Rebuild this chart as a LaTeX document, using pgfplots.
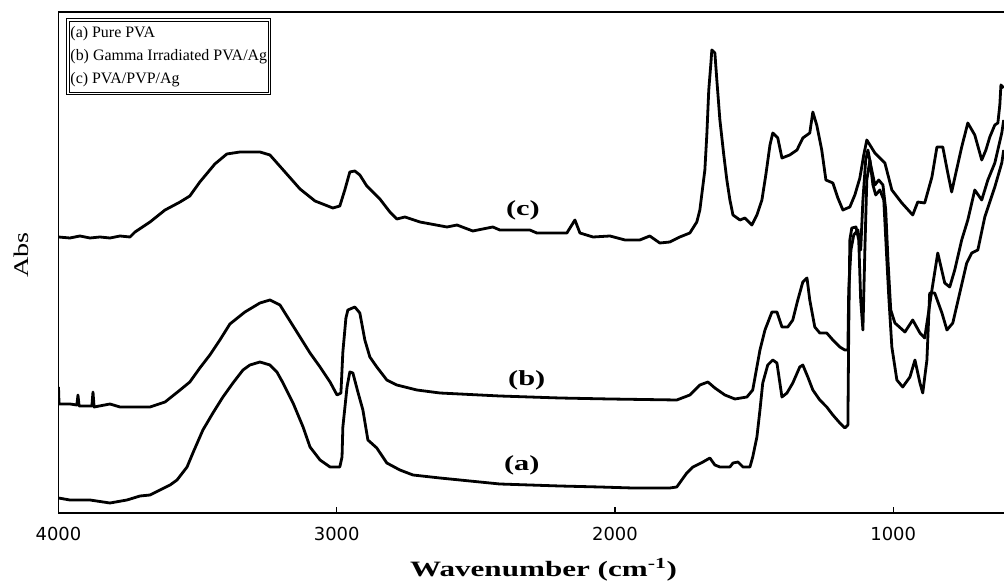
\documentclass[border=0pt]{standalone}
\usepackage{pgfplots}
\pgfplotsset{compat=1.18}
\usepackage{fontspec}
\setmainfont{Liberation Serif}
\newfontfamily\stretchserif[FakeStretch=1.35]{Liberation Serif}
\newfontfamily\widerserif[FakeStretch=1.42]{Liberation Serif}
\newfontfamily\ticksans{DejaVu Sans}

\pgfplotstableread{
wn h
4000 15
3959 13
3887 13
3815 10
3754 13
3707 17
3671 18
3635 23
3599 28
3574 33
3538 46
3517 60
3481 83
3445 100
3409 116
3373 130
3337 143
3312 148
3276 151
3240 148
3215 141
3193 130
3157 110
3121 86
3096 66
3060 53
3024 46
2989 46
2981 56
2978 86
2963 126
2953 141
2942 140
2924 121
2906 103
2888 73
2856 65
2820 50
2773 43
2726 38
2629 35
2414 29
2198 27
2054 26
1936 25
1803 25
1778 26
1742 40
1720 46
1684 51
1659 55
1641 48
1623 46
1587 46
1576 50
1558 51
1540 46
1515 46
1505 56
1490 76
1479 103
1469 130
1451 148
1433 153
1418 150
1400 116
1382 120
1361 130
1336 146
1325 148
1307 136
1289 123
1264 113
1239 106
1217 98
1192 90
1174 85
1163 88
1160 183
1156 273
1149 285
1134 286
1124 273
1117 213
1109 183
1102 263
1095 333
1084 353
1073 328
1063 318
1048 323
1034 313
1023 253
1016 216
1005 166
987 133
966 126
940 136
922 153
904 130
894 120
879 153
869 220
851 220
825 200
807 183
786 190
761 220
736 250
718 260
696 263
671 296
635 326
610 350
603 363
}\curveA

\pgfplotstableread{
wn h
4000 126
3998 109
3959 109
3934 108
3930 118
3926 107
3880 107
3876 121
3872 106
3815 109
3779 106
3671 106
3617 111
3563 123
3528 131
3492 145
3456 158
3420 173
3384 189
3330 201
3276 210
3240 213
3204 208
3168 192
3132 176
3096 160
3060 146
3024 131
2999 118
2985 120
2978 161
2967 195
2960 203
2935 206
2917 200
2899 173
2881 156
2856 146
2820 133
2784 128
2712 123
2629 120
2414 117
2198 115
2018 114
1778 113
1731 118
1695 128
1666 131
1641 125
1605 118
1569 114
1526 116
1505 123
1479 163
1461 183
1436 201
1418 201
1400 186
1379 186
1361 193
1343 213
1325 231
1310 235
1300 213
1282 186
1264 180
1239 180
1217 173
1192 166
1174 163
1163 163
1160 223
1152 263
1142 278
1127 283
1117 263
1109 313
1099 353
1091 363
1081 348
1066 328
1052 333
1037 328
1027 303
1019 253
1009 203
994 190
958 181
930 193
904 180
887 175
861 223
840 260
815 230
797 226
779 243
754 273
732 293
707 323
682 313
660 333
635 350
610 380
603 393
}\curveB

\pgfplotstableread{
wn h
4000 276
3959 275
3923 277
3887 275
3851 276
3815 275
3779 277
3743 276
3725 281
3671 291
3617 303
3563 311
3528 317
3492 331
3438 349
3395 359
3348 361
3276 361
3240 358
3186 341
3132 324
3078 312
3014 305
2989 307
2971 323
2953 341
2935 342
2917 338
2892 327
2845 314
2809 301
2784 294
2755 296
2701 291
2604 286
2568 288
2511 282
2439 286
2414 283
2306 283
2281 280
2173 280
2144 293
2126 280
2079 276
2018 277
1964 273
1911 273
1875 277
1839 270
1803 271
1767 276
1731 280
1706 291
1695 303
1677 343
1670 378
1663 423
1655 451
1652 463
1641 460
1634 433
1623 393
1609 358
1598 333
1587 313
1576 298
1551 293
1533 295
1508 288
1490 298
1472 313
1458 338
1443 368
1433 380
1415 375
1400 355
1372 358
1346 363
1325 375
1300 380
1289 401
1275 388
1257 363
1242 333
1217 330
1199 315
1181 303
1156 306
1138 318
1120 335
1106 358
1095 373
1066 360
1030 350
1005 323
969 310
930 298
912 311
887 310
861 336
843 366
822 366
804 340
790 321
779 335
754 366
732 390
707 378
682 353
667 363
653 376
635 388
624 390
617 408
613 428
603 425
}\curveC

\begin{document}
\begin{tikzpicture}
\path[use as bounding box] (0,0) rectangle (1004bp,584bp);
\begin{axis}[
  at={(58.5bp,71bp)}, anchor=south west,
  scale only axis, width=948bp, height=501bp,
  xmin=593, xmax=4000, ymin=0, ymax=501,
  x dir=reverse,
  xtick={1000,2000,3000,4000},
  ytick=\empty,
  xtick pos=bottom,
  tick align=inside,
  major tick length=6bp,
  axis line style={line width=1.2bp},
  every tick/.style={black, line width=1.2bp},
  xticklabel style={font=\ticksans\fontsize{18}{18}\selectfont, yshift=-11bp},
  /pgf/number format/assume math mode=true,
  /pgf/number format/1000 sep={},
  clip=true,
]
\addplot[black, line width=2.8bp, line join=round] table[x=wn, y=h] {\curveA};
\addplot[black, line width=2.8bp, line join=round] table[x=wn, y=h] {\curveB};
\addplot[black, line width=2.8bp, line join=round] table[x=wn, y=h] {\curveC};
\node[font=\widerserif\bfseries\fontsize{21.5}{21.5}\selectfont] at (axis cs:2331,303) {(c)};
\node[font=\widerserif\bfseries\fontsize{21.5}{21.5}\selectfont] at (axis cs:2317,133) {(b)};
\node[font=\widerserif\bfseries\fontsize{21.5}{21.5}\selectfont] at (axis cs:2335,48) {(a)};
\end{axis}
\node[draw, double, line width=0.9bp, double distance=1.4bp, anchor=north west,
      inner xsep=2.5bp, inner ysep=6.5bp, align=left,
      font=\fontsize{16}{23}\selectfont] at (67.5bp,564.5bp)
  {(a) Pure PVA\\(b) Gamma Irradiated PVA/Ag\\(c) PVA/PVP/Ag};
\node[rotate=90, font=\stretchserif\fontsize{21}{21}\selectfont] at (21bp,329bp) {Abs};
\node[font=\widerserif\bfseries\fontsize{22}{22}\selectfont] at (543.5bp,14bp) {Wavenumber (cm\textsuperscript{-1})};
\end{tikzpicture}
\end{document}
